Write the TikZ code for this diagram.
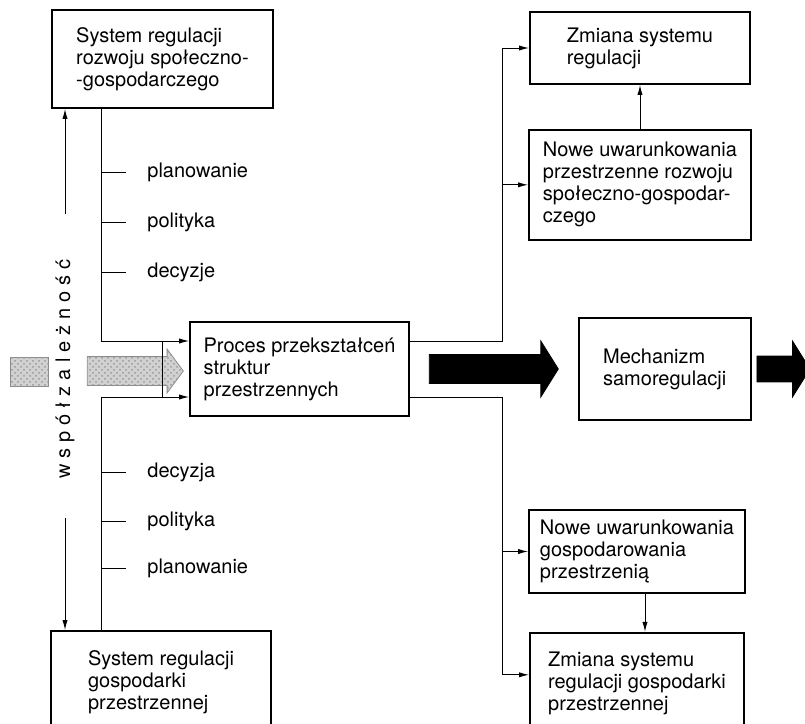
\documentclass[tikz,border=0pt]{standalone}
\usepackage{fontspec}
\setmainfont{TeX Gyre Heros}
\usetikzlibrary{shapes.arrows, arrows.meta, positioning, patterns}
\tikzstyle{box} = [rectangle, draw=black, line width=0.9pt, align=left, inner sep=0pt]
\tikzstyle{arrow} = [->, >={Latex[length=5pt, width=2.6pt]}, line width=0.5pt]
\tikzstyle{line} = [line width=0.5pt]
\tikzstyle{ticklabel} = [anchor=west, inner xsep=10.5pt, inner ysep=0pt]
\tikzstyle{bigarrow} = [single arrow, fill=black, draw=black, inner xsep=0pt, single arrow tip angle=116]
\tikzstyle{hatched} = [fill=black!18, draw=black!45, line width=0.4pt, postaction={pattern=crosshatch dots, pattern color=black!40}]
\newcommand{\ls}{\hspace{3pt}}

\begin{document}
\begin{tikzpicture}[x=0.5pt, y=-0.5pt, node distance=20pt, every node/.style={font=\fontsize{10}{11}\selectfont}]
  \useasboundingbox (0,0) rectangle (805,724);
  \clip (0,0) rectangle (805,724);
  \coordinate (lt) at (101,369);
  \coordinate (rt) at (502,369);
  \coordinate (brk) at (162,369);

  \node (proces) [box, minimum width=109.5pt, minimum height=47pt] at (299.5,369) {Proces przekształceń\\struktur\\przestrzennych};
  \node (sysTop) [box, minimum width=110.5pt, minimum height=49pt] at (162.5,59) {System regulacji\\rozwoju społeczno-\\-gospodarczego};
  \node (sysBot) [box, minimum width=110pt, minimum height=51pt] at (161,682) {System regulacji\\gospodarki\\przestrzennej};
  \node (zmianaTop) [box, minimum width=110pt, minimum height=36pt] at (640,48) {Zmiana systemu\\regulacji};
  \node (noweTop) [box, minimum width=111pt, minimum height=55pt, below=22pt of zmianaTop] {Nowe uwarunkowania\\przestrzenne rozwoju\\społeczno-gospodar-\\czego};
  \node (arrowA) [bigarrow, minimum height=64.5pt, inner ysep=7pt, single arrow head extend=6.75pt, right=9.5pt of proces] {};
  \node (mech) [box, minimum width=86pt, minimum height=51pt, right=9.5pt of arrowA] {Mechanizm\\samoregulacji};
  \node (arrowB) [bigarrow, minimum height=26.5pt, inner ysep=6.25pt, single arrow head extend=7.5pt, right=2.5pt of mech] {};
  \node (noweBot) [box, minimum width=108pt, minimum height=41.5pt] at (637,551.5) {Nowe uwarunkowania\\gospodarowania\\przestrzenią};
  \node (zmianaBot) [box, minimum width=107pt, minimum height=51pt, below=19pt of noweBot] {Zmiana systemu\\regulacji gospodarki\\przestrzennej};

  \node (hatchTail) [hatched, rectangle, inner sep=0pt, minimum width=19pt, minimum height=14.5pt] at (29,371.5) {};
  \node (hatch) [hatched, single arrow, inner xsep=0pt, inner ysep=7pt, single arrow head extend=3.75pt, single arrow tip angle=107, minimum height=48pt] at (130,371) {};
  \node (wz) [rotate=90] at (65,369) {w\ls s\ls p\ls ó\ls ł\ls z\ls a\ls l\ls e\ls ż\ls n\ls o\ls ś\ls ć};

  \foreach \lab/\y [count=\i] in {planowanie/172, polityka/222, decyzje/272}
    {\node (upLab\i) [ticklabel] at (126,\y) {\lab};
     \draw [line] (upLab\i.west) -- (upLab\i.west -| lt);}
  \foreach \lab/\y [count=\i] in {decyzja/472, polityka/521, planowanie/568}
    {\node (loLab\i) [ticklabel] at (126,\y) {\lab};
     \draw [line] (loLab\i.west) -- (loLab\i.west -| lt);}

  \draw [arrow] (sysTop.south -| lt) |- ([yshift=14pt]proces.west);
  \draw [arrow] (sysBot.north -| lt) |- ([yshift=-14pt]proces.west);
  \draw [line] ([yshift=14pt]proces.west -| brk) -- ([yshift=-14pt]proces.west -| brk);
  \draw [arrow, shorten <=19pt] (wz.east) -- (wz.east |- sysTop.south);
  \draw [arrow, shorten <=16pt] (wz.west) -- (wz.west |- sysBot.north);

  \draw [arrow] ([yshift=14pt]proces.east) -- ([yshift=14pt]proces.east -| rt) |- (zmianaTop.west);
  \draw [arrow] (noweTop.west -| rt) -- (noweTop.west);
  \draw [arrow] (noweTop.north) -- (zmianaTop.south);
  \draw [arrow] ([yshift=-14pt]proces.east) -- ([yshift=-14pt]proces.east -| rt) |- ([yshift=4.5pt]zmianaBot.west);
  \draw [arrow] (noweBot.west -| rt) -- (noweBot.west);
  \draw [arrow] ([xshift=4pt]noweBot.south) -- ([xshift=4pt]noweBot.south |- zmianaBot.north);
\end{tikzpicture}
\end{document}
